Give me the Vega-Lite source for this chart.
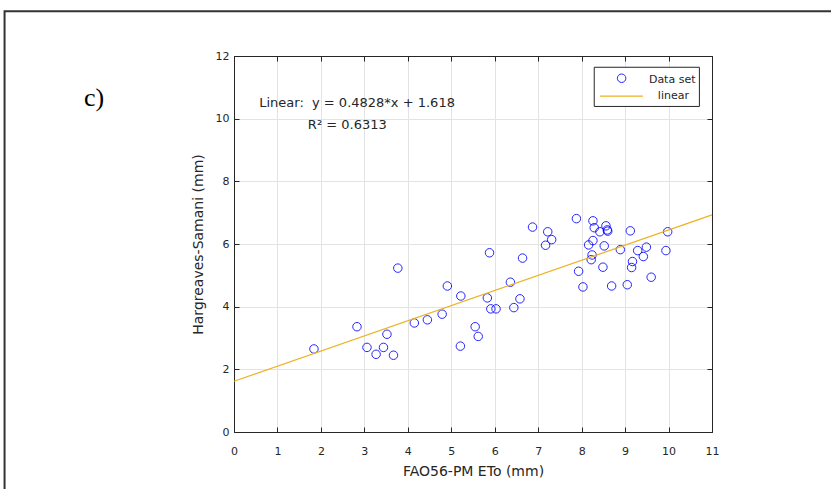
{
  "$schema": "https://vega.github.io/schema/vega-lite/v6.json",
  "width": 478,
  "height": 376,
  "autosize": "none",
  "padding": {"left": 234, "top": 56, "right": 119, "bottom": 57},
  "background": "white",
  "config": {
    "view": {"stroke": "#262626", "strokeWidth": 1},
    "font": "DejaVu Sans",
    "axis": {
      "labelFont": "DejaVu Sans",
      "labelFontSize": 11,
      "labelColor": "#262626",
      "domainColor": "#262626",
      "tickColor": "#262626",
      "gridColor": "#e3e3e3",
      "tickSize": -5,
      "labelOverlap": false,
      "labelFlush": false,
      "titleFont": "DejaVu Sans",
      "titleFontSize": 14,
      "titleFontWeight": "normal",
      "titleColor": "#262626"
    }
  },
  "datasets": {
    "obs": [
      {"eto": 1.84, "hs": 2.65}, {"eto": 2.83, "hs": 3.36}, {"eto": 3.06, "hs": 2.70},
      {"eto": 3.27, "hs": 2.48}, {"eto": 3.44, "hs": 2.70}, {"eto": 3.52, "hs": 3.12},
      {"eto": 3.67, "hs": 2.45}, {"eto": 3.77, "hs": 5.23}, {"eto": 4.15, "hs": 3.48},
      {"eto": 4.45, "hs": 3.58}, {"eto": 4.79, "hs": 3.76}, {"eto": 4.91, "hs": 4.66},
      {"eto": 5.22, "hs": 4.34}, {"eto": 5.21, "hs": 2.74}, {"eto": 5.55, "hs": 3.36},
      {"eto": 5.62, "hs": 3.05}, {"eto": 5.88, "hs": 5.72}, {"eto": 5.83, "hs": 4.28},
      {"eto": 5.91, "hs": 3.93}, {"eto": 6.03, "hs": 3.93}, {"eto": 6.36, "hs": 4.78},
      {"eto": 6.44, "hs": 3.97}, {"eto": 6.58, "hs": 4.25}, {"eto": 6.64, "hs": 5.55},
      {"eto": 6.87, "hs": 6.54}, {"eto": 7.17, "hs": 5.96}, {"eto": 7.22, "hs": 6.39},
      {"eto": 7.31, "hs": 6.14}, {"eto": 7.88, "hs": 6.81}, {"eto": 7.93, "hs": 5.13},
      {"eto": 8.03, "hs": 4.63}, {"eto": 8.16, "hs": 5.97}, {"eto": 8.26, "hs": 6.74},
      {"eto": 8.29, "hs": 6.52}, {"eto": 8.26, "hs": 6.11}, {"eto": 8.24, "hs": 5.65},
      {"eto": 8.22, "hs": 5.50}, {"eto": 8.42, "hs": 6.39}, {"eto": 8.56, "hs": 6.58},
      {"eto": 8.59, "hs": 6.45}, {"eto": 8.60, "hs": 6.41}, {"eto": 8.52, "hs": 5.94},
      {"eto": 8.49, "hs": 5.26}, {"eto": 8.69, "hs": 4.66}, {"eto": 8.89, "hs": 5.82},
      {"eto": 9.05, "hs": 4.70}, {"eto": 9.12, "hs": 6.42}, {"eto": 9.17, "hs": 5.44},
      {"eto": 9.15, "hs": 5.25}, {"eto": 9.29, "hs": 5.79}, {"eto": 9.42, "hs": 5.60},
      {"eto": 9.49, "hs": 5.90}, {"eto": 9.60, "hs": 4.94}, {"eto": 9.94, "hs": 5.79},
      {"eto": 9.98, "hs": 6.39}
    ],
    "fit": [{"eto": 0, "hs": 1.618}, {"eto": 11, "hs": 6.929}]
  },
  "layer": [
    {
      "data": {"name": "obs"},
      "mark": {"type": "point", "shape": "circle", "filled": false, "color": "#0000ff", "size": 72, "strokeWidth": 1, "opacity": 0.85},
      "encoding": {
        "x": {"field": "eto", "type": "quantitative", "scale": {"domain": [0, 11], "nice": false, "zero": false},
              "axis": {"orient": "bottom", "title": "FAO56-PM ETo (mm)", "values": [0,1,2,3,4,5,6,7,8,9,10,11], "labelPadding": 18, "titlePadding": 8}},
        "y": {"field": "hs", "type": "quantitative", "scale": {"domain": [0, 12], "nice": false, "zero": false},
              "axis": {"orient": "left", "title": "Hargreaves-Samani (mm)", "values": [0,2,4,6,8,10,12], "labelPadding": 10, "titlePadding": 10}}
      }
    },
    {
      "data": {"name": "fit"},
      "mark": {"type": "line", "color": "#EDB120", "strokeWidth": 1.2},
      "encoding": {
        "x": {"field": "eto", "type": "quantitative", "axis": {"orient": "top", "labels": false, "grid": false, "title": null, "values": [0,1,2,3,4,5,6,7,8,9,10,11]}},
        "y": {"field": "hs", "type": "quantitative", "axis": {"orient": "right", "labels": false, "grid": false, "title": null, "values": [0,2,4,6,8,10,12]}}
      }
    },
    {
      "data": {"values": [{}]},
      "mark": {"type": "rect", "fill": "transparent", "stroke": "#333333", "strokeWidth": 2},
      "encoding": {
        "x": {"datum": -5.28, "type": "quantitative", "axis": null},
        "x2": {"datum": 13.85},
        "y": {"datum": -2.03, "type": "quantitative", "axis": null},
        "y2": {"datum": 13.43}
      }
    },
    {
      "data": {"values": [{}]},
      "mark": {"type": "text", "text": "c)", "font": "Liberation Serif", "fontSize": 26, "align": "left", "baseline": "alphabetic", "color": "#000000"},
      "encoding": {
        "x": {"datum": -3.45, "type": "quantitative", "axis": null},
        "y": {"datum": 10.4, "type": "quantitative", "axis": null}
      }
    },
    {
      "data": {"values": [{}]},
      "mark": {"type": "text", "text": "Linear:\u00a0\u00a0y = 0.4828*x + 1.618", "fontSize": 13, "align": "left", "baseline": "middle", "color": "#262626"},
      "encoding": {
        "x": {"datum": 0.58, "type": "quantitative", "axis": null},
        "y": {"datum": 10.49, "type": "quantitative", "axis": null}
      }
    },
    {
      "data": {"values": [{}]},
      "mark": {"type": "text", "text": "R² = 0.6313", "fontSize": 13, "align": "left", "baseline": "middle", "color": "#262626"},
      "encoding": {
        "x": {"datum": 1.70, "type": "quantitative", "axis": null},
        "y": {"datum": 9.80, "type": "quantitative", "axis": null}
      }
    },
    {
      "data": {"values": [{}]},
      "mark": {"type": "rect", "fill": "white", "stroke": "#262626", "strokeWidth": 1},
      "encoding": {
        "x": {"datum": 8.29, "type": "quantitative", "axis": null},
        "x2": {"datum": 10.71},
        "y": {"datum": 10.39, "type": "quantitative", "axis": null},
        "y2": {"datum": 11.64}
      }
    },
    {
      "data": {"values": [{}]},
      "mark": {"type": "point", "shape": "circle", "filled": false, "color": "#0000ff", "size": 72, "strokeWidth": 1, "opacity": 0.85},
      "encoding": {
        "x": {"datum": 8.92, "type": "quantitative", "axis": null},
        "y": {"datum": 11.29, "type": "quantitative", "axis": null}
      }
    },
    {
      "data": {"values": [{}]},
      "mark": {"type": "rule", "color": "#EDB120", "strokeWidth": 1.2},
      "encoding": {
        "x": {"datum": 8.42, "type": "quantitative", "axis": null},
        "x2": {"datum": 9.41},
        "y": {"datum": 10.72, "type": "quantitative", "axis": null}
      }
    },
    {
      "data": {"values": [{}]},
      "mark": {"type": "text", "text": "Data set", "fontSize": 11, "align": "right", "baseline": "middle", "color": "#262626"},
      "encoding": {
        "x": {"datum": 10.62, "type": "quantitative", "axis": null},
        "y": {"datum": 11.25, "type": "quantitative", "axis": null}
      }
    },
    {
      "data": {"values": [{}]},
      "mark": {"type": "text", "text": "linear", "fontSize": 11, "align": "right", "baseline": "middle", "color": "#262626"},
      "encoding": {
        "x": {"datum": 10.47, "type": "quantitative", "axis": null},
        "y": {"datum": 10.71, "type": "quantitative", "axis": null}
      }
    }
  ],
  "resolve": {"axis": {"x": "independent", "y": "independent"}}
}
